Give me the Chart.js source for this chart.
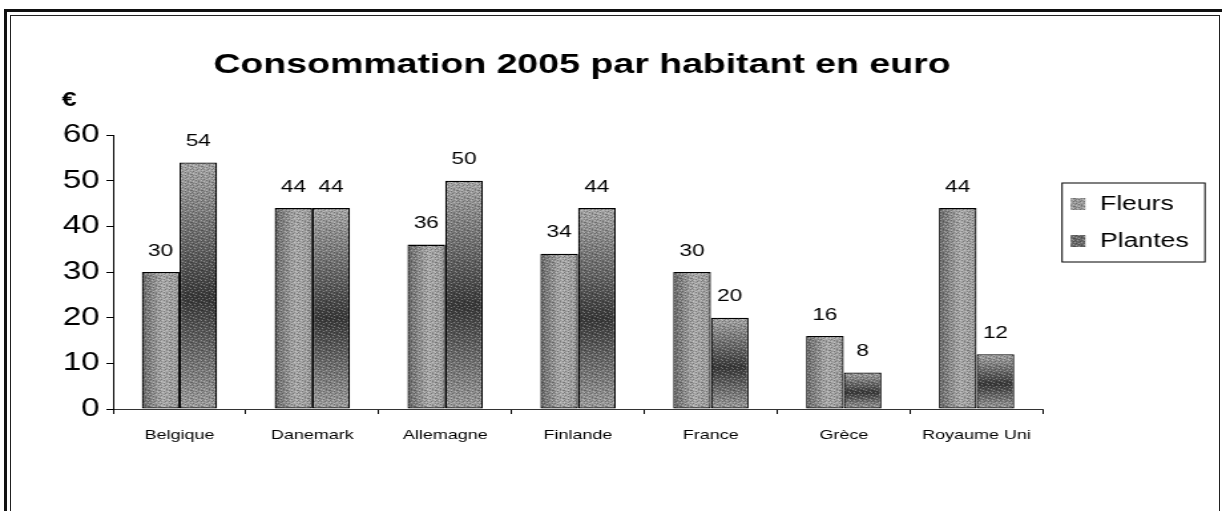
<!DOCTYPE html>
<html lang="fr">
<head>
<meta charset="utf-8">
<title>Consommation 2005 par habitant en euro</title>
<script src="https://cdn.jsdelivr.net/npm/chart.js@4.4.1/dist/chart.umd.min.js"></script>
<style>
    html, body { margin: 0; padding: 0; background: #fff; overflow: hidden; }
    body { width: 1222px; height: 511px; position: relative; }
    /* double cadre du document scanné */
    #cadre { position: absolute; left: 4px; top: 9px; width: 1240px; height: 540px; border: 3px solid #111; }
    #cadreInt { position: absolute; left: 10px; top: 15px; width: 1208px; height: 530px; border: 1px solid #222; }
    /* le graphique d'origine est étiré horizontalement */
    #zone { position: absolute; left: 0; top: 0; width: 919px; height: 511px; transform: scaleX(1.3297); transform-origin: 0 0; }
</style>
</head>
<body>
<div id="cadre"></div>
<div id="cadreInt"></div>
<div id="zone"><canvas id="graphique" width="919" height="511"></canvas></div>
<script>
// Données
const pays = ['Belgique', 'Danemark', 'Allemagne', 'Finlande', 'France', 'Grèce', 'Royaume Uni'];
const fleurs = [30, 44, 36, 34, 30, 16, 44];
const plantes = [54, 44, 50, 44, 20, 8, 12];
const echelleY = { min: 0, max: 60, pas: 10 };

const POLICE = '"Liberation Sans", Arial, sans-serif';
const PCT_CATEGORIE = 0.567;

// Dégradé horizontal pour les fleurs (sombre à gauche, clair à droite)
function remplissageFleurs(context) {
    const chart = context.chart;
    const xs = chart.scales.x;
    if (!xs || context.type !== 'data') return '#9a9a9a';
    const centre = xs.getPixelForValue(context.dataIndex);
    const largeur = xs.width / pays.length * PCT_CATEGORIE / 2;
    if (!isFinite(centre) || !isFinite(largeur) || largeur <= 0) return '#9a9a9a';
    const g = chart.ctx.createLinearGradient(centre - largeur, 0, centre, 0);
    g.addColorStop(0, '#6a6a6a');
    g.addColorStop(0.55, '#ababab');
    g.addColorStop(1, '#9c9c9c');
    return g;
}

// Dégradé vertical pour les plantes (clair - sombre au milieu - clair)
function remplissagePlantes(context) {
    const chart = context.chart;
    const ys = chart.scales.y;
    if (!ys || context.type !== 'data') return '#777';
    const haut = ys.getPixelForValue(context.raw);
    const bas = ys.getPixelForValue(0);
    if (!isFinite(haut) || !isFinite(bas) || bas - haut <= 0) return '#777';
    const g = chart.ctx.createLinearGradient(0, haut, 0, bas);
    g.addColorStop(0, '#a8a8a8');
    g.addColorStop(0.55, '#3a3a3a');
    g.addColorStop(1, '#a0a0a0');
    return g;
}

// Petit motif fixe pour imiter le grain de l'impression
function creerGrain() {
    const masque = [
        '0.1..2.1',
        '.2..0..0',
        '1..2.1..',
        '.0.1...2',
        '2..0.2.1',
        '.1...0..',
        '0..1.2.0',
        '.2.0..1.'
    ];
    const c = document.createElement('canvas');
    c.width = 8;
    c.height = 8;
    const g = c.getContext('2d');
    masque.forEach(function(ligne, y) {
        ligne.split('').forEach(function(ch, x) {
            if (ch === '0') g.fillStyle = 'rgba(0,0,0,0.28)';
            else if (ch === '1') g.fillStyle = 'rgba(255,255,255,0.3)';
            else if (ch === '2') g.fillStyle = 'rgba(0,0,0,0.16)';
            else return;
            g.fillRect(x, y, 1, 1);
        });
    });
    return c;
}
const grain = creerGrain();

// Le titre est centré un peu à gauche du centre de la page
const decalageTitre = {
    id: 'decalageTitre',
    afterLayout(chart) {
        const t = chart.titleBlock;
        if (t) {
            t.left = 91;
            t.width = t.right - t.left;
        }
    }
};

// Grain sur les barres puis valeurs au-dessus
const etiquettesValeurs = {
    id: 'etiquettesValeurs',
    afterDatasetsDraw(chart) {
        const ctx = chart.ctx;
        ctx.save();
        ctx.fillStyle = ctx.createPattern(grain, 'repeat');
        chart.data.datasets.forEach(function(ds, i) {
            chart.getDatasetMeta(i).data.forEach(function(barre) {
                const p = barre.getProps(['x', 'y', 'base', 'width']);
                ctx.fillRect(p.x - p.width / 2 + 1, p.y + 1, p.width - 2, p.base - p.y - 2);
            });
        });

        ctx.font = '17px ' + POLICE;
        ctx.fillStyle = '#000';
        ctx.textAlign = 'center';
        ctx.textBaseline = 'middle';
        chart.data.datasets.forEach(function(ds, i) {
            chart.getDatasetMeta(i).data.forEach(function(barre, j) {
                ctx.fillText(ds.data[j], barre.x, barre.y - 21);
            });
        });
        ctx.restore();
    }
};

// Symbole € au-dessus de l'axe et légende encadrée
const decorations = {
    id: 'decorations',
    afterDraw(chart) {
        const ctx = chart.ctx;
        const zone = chart.chartArea;
        ctx.save();
        ctx.fillStyle = '#000';
        ctx.font = 'bold 20px ' + POLICE;
        ctx.textAlign = 'center';
        ctx.textBaseline = 'middle';
        ctx.fillText('€', zone.left - 33, zone.top - 35);

        // légende
        const x0 = zone.left + zone.width + 14.3;
        const y0 = 183;
        ctx.strokeStyle = '#000';
        ctx.lineWidth = 1;
        ctx.strokeRect(x0, y0, 107.5, 79);
        const couleurs = ['#9a9a9a', '#6a6a6a'];
        ctx.font = '20px ' + POLICE;
        ctx.textAlign = 'left';
        chart.data.datasets.forEach(function(ds, i) {
            const yc = y0 + 21 + i * 37;
            ctx.fillStyle = couleurs[i];
            ctx.fillRect(x0 + 6.5, yc - 6, 11, 12);
            ctx.fillStyle = ctx.createPattern(grain, 'repeat');
            ctx.fillRect(x0 + 6.5, yc - 6, 11, 12);
            ctx.fillStyle = '#000';
            ctx.fillText(ds.label, x0 + 28.5, yc);
        });
        ctx.restore();
    }
};

const ctx = document.getElementById('graphique').getContext('2d');
const graphique = new Chart(ctx, {
    type: 'bar',
    data: {
        labels: pays,
        datasets: [
            { label: 'Fleurs', data: fleurs, backgroundColor: remplissageFleurs },
            { label: 'Plantes', data: plantes, backgroundColor: remplissagePlantes }
        ]
    },
    options: {
        responsive: false,
        animation: false,
        events: [],
        layout: { padding: { top: 0, left: 0, right: 134.6, bottom: 40 } },
        datasets: {
            bar: {
                categoryPercentage: PCT_CATEGORIE,
                barPercentage: 1,
                borderColor: '#000',
                borderWidth: 1.3,
                borderSkipped: false
            }
        },
        plugins: {
            legend: { display: false },
            tooltip: { enabled: false },
            title: {
                display: true,
                text: 'Consommation 2005 par habitant en euro',
                color: '#000',
                font: { family: POLICE, size: 28.2, weight: 'bold', lineHeight: 1.2 },
                padding: { top: 48, bottom: 53.2 }
            }
        },
        scales: {
            x: {
                afterFit: function(scale) { scale.height = 62; },
                grid: { display: true, drawOnChartArea: false, drawTicks: true, tickLength: 5, color: '#000' },
                border: { display: true, color: '#333', width: 1 },
                ticks: { color: '#000', padding: 13, font: { family: POLICE, size: 13.5 }, maxRotation: 0 }
            },
            y: {
                min: echelleY.min,
                max: echelleY.max,
                afterFit: function(scale) { scale.width = 85; },
                grid: { display: true, drawOnChartArea: false, drawTicks: true, tickLength: 5, color: '#000' },
                border: { display: true, color: '#000', width: 1 },
                ticks: { stepSize: echelleY.pas, color: '#000', padding: 5, font: { family: POLICE, size: 25 } }
            }
        }
    },
    plugins: [decalageTitre, etiquettesValeurs, decorations]
});
</script>
</body>
</html>
